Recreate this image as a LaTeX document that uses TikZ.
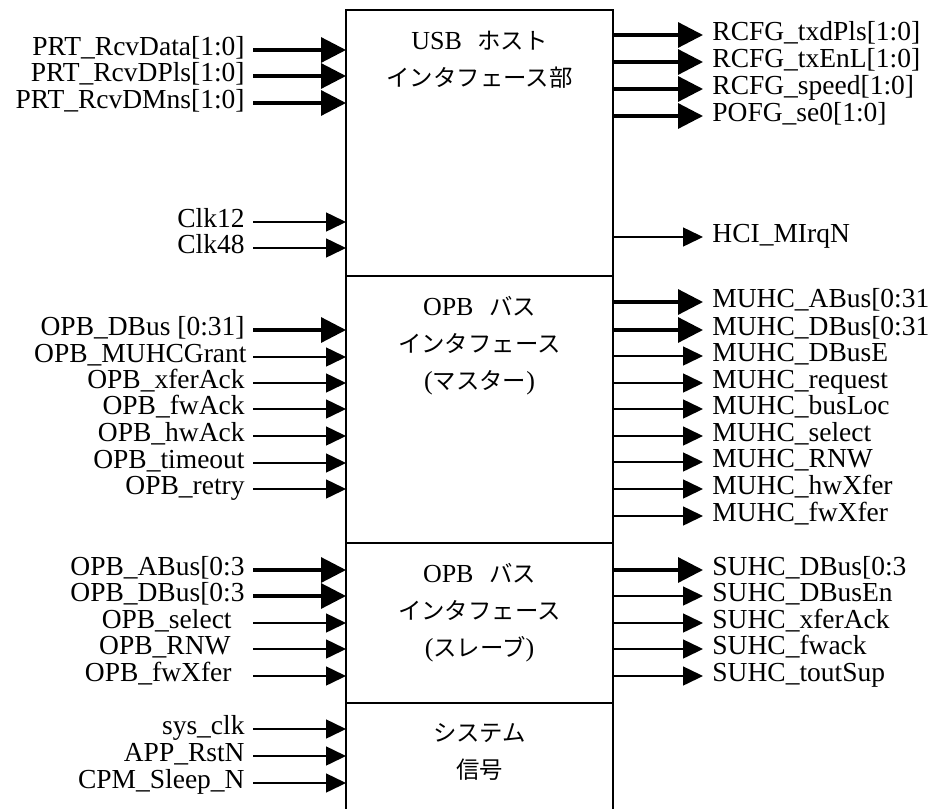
\documentclass[tikz,border=0pt]{standalone}
\usepackage{fontspec}
\setmainfont{Liberation Serif}
\newfontfamily\cjk[Scale=0.9]{Noto Sans CJK JP}
\usetikzlibrary{positioning, calc, arrows.meta}

\begin{document}
\begin{tikzpicture}[
    x=0.5pt, y=-0.5pt,
    block/.style={
        draw,
        line width=1pt,
        minimum width=133.5pt,
        inner sep=0pt, outer sep=0pt
    },
    title/.style={
        align=center, inner sep=0pt,
        font=\fontsize{13}{18.5}\selectfont
    },
    signame/.style={
        inner sep=0pt,
        text height=0.78em, text depth=0.2em,
        font=\fontsize{13.75}{14}\selectfont
    },
    bus/.style={
        -{Triangle[length=12.5pt, width=12.5pt]},
        line width=1.6pt
    },
    wire/.style={
        -{Triangle[length=10pt, width=9.5pt]},
        line width=0.75pt
    }
]

\useasboundingbox (0,0) rectangle (935,808);

% blocks
\node[block, anchor=north west, minimum height=133pt] (usb) at (346,10) {};
\node[block, below=0pt of usb, minimum height=133.5pt] (opbm) {};
\node[block, below=0pt of opbm, minimum height=80pt] (opbs) {};
\node[block, below=0pt of opbs, minimum height=63.5pt] (sys) {};

% block titles
\node[title, below=10.5pt of usb.north] (usbtitle)
  {USB\hspace{0.6em}{\cjk ホスト}\\{\cjk インタフェース部}};
\node[title, below=10pt of opbm.north] (opbmtitle)
  {OPB\hspace{0.6em}{\cjk バス}\\{\cjk インタフェース}\\({\cjk マスター})};
\node[title, below=10pt of opbs.north] (opbstitle)
  {OPB\hspace{0.6em}{\cjk バス}\\{\cjk インタフェース}\\({\cjk スレーブ})};
\node[title, below=10pt of sys.north] (systitle)
  {{\cjk システム}\\{\cjk 信号}};

% inputs
\foreach \name/\ypos/\kind/\tx [count=\k] in {
    PRT\_RcvData[1:0]/50/bus/245,
    PRT\_RcvDPls[1:0]/76/bus/245,
    PRT\_RcvDMns[1:0]/103/bus/245,
    Clk12/222/wire/245,
    Clk48/248/wire/245,
    OPB\_DBus [0:31]/330/bus/245,
    OPB\_MUHCGrant/357/wire/247,
    OPB\_xferAck/383/wire/245,
    OPB\_fwAck/409/wire/245,
    OPB\_hwAck/436/wire/245,
    OPB\_timeout/463/wire/245,
    OPB\_retry/489/wire/245,
    OPB\_ABus[0:3/570/bus/245,
    OPB\_DBus[0:3/596/bus/245,
    OPB\_select/623/wire/232,
    OPB\_RNW/649/wire/231,
    OPB\_fwXfer/676/wire/232,
    sys\_clk/729/wire/245,
    APP\_RstN/756/wire/245,
    CPM\_Sleep\_N/783/wire/245}{
  \coordinate (src\k) at (253,\ypos);
  \node[signame, anchor=east] (inlab\k) at (\tx,\ypos) {\name};
  \draw[\kind] (src\k) -- (src\k -| usb.west);
}

% outputs
\foreach \name/\ypos/\kind [count=\k] in {
    RCFG\_txdPls[1:0]/35/bus,
    RCFG\_txEnL[1:0]/62/bus,
    RCFG\_speed[1:0]/89/bus,
    POFG\_se0[1:0]/116/bus,
    HCI\_MIrqN/237/wire,
    MUHC\_ABus[0:31/302/bus,
    MUHC\_DBus[0:31/330/bus,
    MUHC\_DBusE/356/wire,
    MUHC\_request/383/wire,
    MUHC\_busLoc/409/wire,
    MUHC\_select/436/wire,
    MUHC\_RNW/462/wire,
    MUHC\_hwXfer/489/wire,
    MUHC\_fwXfer/516/wire,
    SUHC\_DBus[0:3/570/bus,
    SUHC\_DBusEn/596/wire,
    SUHC\_xferAck/623/wire,
    SUHC\_fwack/649/wire,
    SUHC\_toutSup/676/wire}{
  \coordinate (dst\k) at (703,\ypos);
  \node[signame, anchor=west] (outlab\k) at (712,\ypos) {\name};
  \draw[\kind] (dst\k -| usb.east) -- (dst\k);
}

\end{tikzpicture}
\end{document}
